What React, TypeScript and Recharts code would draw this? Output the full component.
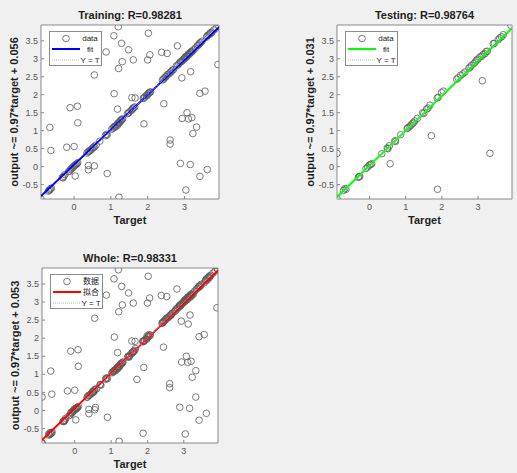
import React from "react";
import { ScatterChart, Scatter, XAxis, YAxis, Label } from "recharts";

// ── dados: [target, output] ─────────────────────────────────────────────
const trainPoints: [number, number][] = [
  // perto da diagonal
  [-0.9, -0.9], [-0.7, -0.68], [-0.68, -0.66], [-0.66, -0.64], [-0.64, -0.62], [-0.62, -0.6],
  [-0.32, -0.3], [-0.3, -0.31], [-0.28, -0.27], [-0.25, -0.22], [-0.15, -0.14], [-0.12, -0.12],
  [-0.1, -0.08], [-0.07, -0.06], [-0.05, -0.03], [-0.02, 0.0], [0.0, 0.02], [0.02, 0.03],
  [0.04, 0.05], [0.06, 0.07], [0.08, 0.08], [0.1, 0.11],
  [0.35, 0.38], [0.38, 0.41], [0.4, 0.42], [0.42, 0.44], [0.45, 0.46], [0.48, 0.49], [0.5, 0.52],
  [0.53, 0.53], [0.55, 0.56], [0.6, 0.6],
  [0.7, 0.71], [0.85, 0.86], [0.88, 0.9], [0.9, 0.88],
  [1.02, 1.04], [1.06, 1.07], [1.08, 1.1], [1.1, 1.12], [1.12, 1.1], [1.14, 1.14], [1.17, 1.18],
  [1.18, 1.15], [1.2, 1.22], [1.22, 1.2], [1.24, 1.23], [1.25, 1.26], [1.27, 1.3], [1.28, 1.28],
  [1.3, 1.31], [1.32, 1.33],
  [1.45, 1.47], [1.48, 1.49], [1.5, 1.52], [1.55, 1.56], [1.58, 1.59], [1.6, 1.62], [1.62, 1.64],
  [1.65, 1.66],
  [1.88, 1.9], [1.9, 1.91], [1.92, 1.94], [1.96, 1.98], [1.98, 1.97], [2.0, 2.01], [2.02, 2.04],
  [2.04, 2.05], [2.06, 2.07], [2.08, 2.08],
  [2.4, 2.41], [2.43, 2.43], [2.45, 2.46], [2.48, 2.49], [2.5, 2.51], [2.53, 2.55], [2.56, 2.57],
  [2.6, 2.6], [2.62, 2.63], [2.65, 2.65], [2.67, 2.68], [2.7, 2.7],
  [2.78, 2.8], [2.82, 2.83], [2.85, 2.86], [2.88, 2.9], [2.9, 2.92], [2.93, 2.93], [2.95, 2.96],
  [2.98, 2.99], [3.0, 3.01], [3.02, 3.05], [3.03, 3.02], [3.05, 3.07], [3.07, 3.06], [3.08, 3.09],
  [3.1, 3.12], [3.12, 3.14], [3.13, 3.12], [3.15, 3.16], [3.17, 3.17], [3.18, 3.2], [3.2, 3.19],
  [3.22, 3.22], [3.25, 3.25], [3.3, 3.3],
  [3.35, 3.36], [3.38, 3.38], [3.4, 3.41], [3.42, 3.44], [3.45, 3.46], [3.48, 3.49],
  [3.6, 3.6], [3.62, 3.64], [3.65, 3.66], [3.68, 3.68], [3.7, 3.72], [3.72, 3.71], [3.75, 3.74],
  [3.8, 3.8], [3.86, 3.85], [3.94, 3.9],
  // fora da diagonal
  [0.87, 3.19], [1.08, 3.64], [1.2, 3.89], [1.29, 3.43], [1.48, 3.25], [1.31, 2.92], [1.21, 2.73],
  [1.61, 2.97], [2.02, 3.71], [2.0, 2.97], [2.06, 3.11], [2.38, 3.18], [2.53, 3.15], [2.81, 3.36],
  [0.55, 2.55], [1.09, 2.03], [1.18, 1.6], [-0.11, 1.64], [0.09, 1.68], [0.1, 1.22], [-0.66, 1.09],
  [-0.63, 0.45], [-0.2, 0.54], [0.0, 0.56], [0.03, -0.26], [0.39, 0.03], [0.39, -0.09], [0.55, 0.02],
  [0.9, -0.19], [1.22, -0.85], [1.57, 1.92], [1.66, 1.91], [1.9, 1.19], [2.44, 1.75], [2.93, 2.47],
  [3.17, 2.64], [3.42, 2.04], [3.56, 2.1], [3.07, 1.5], [2.94, 1.34], [3.11, 1.33], [3.2, 1.36],
  [3.33, 1.1], [3.23, 0.92], [2.61, 0.74], [2.61, 0.63], [2.89, 0.09], [3.16, 0.06], [3.42, -0.27],
  [3.62, -0.08], [3.04, -0.65], [3.91, 2.84],
];

const testPoints: [number, number][] = [
  [-0.9, -0.9], [-0.68, -0.61], [-0.72, -0.66], [-0.65, -0.63], [-0.31, -0.3], [-0.29, -0.28],
  [-0.27, -0.27], [-0.1, -0.05], [-0.05, -0.01], [-0.01, 0.04], [0.03, 0.06], [0.06, 0.08],
  [0.34, 0.36], [0.49, 0.52], [0.51, 0.5], [0.55, 0.58], [0.7, 0.72], [0.72, 0.7],
  [0.86, 0.89], [1.04, 1.06], [1.06, 1.08], [1.1, 1.11], [1.14, 1.15], [1.18, 1.19], [1.21, 1.22],
  [1.25, 1.27], [1.32, 1.34], [1.47, 1.5], [1.5, 1.48], [1.58, 1.6], [1.62, 1.63], [1.67, 1.71],
  [1.87, 1.91], [1.9, 1.93], [1.99, 2.06], [2.04, 2.1], [2.41, 2.43], [2.45, 2.47], [2.52, 2.54],
  [2.58, 2.58], [2.64, 2.63], [2.75, 2.74], [2.78, 2.77], [2.82, 2.82], [2.89, 2.87], [2.92, 2.91],
  [2.96, 2.96], [3.0, 2.99], [3.05, 3.05], [3.1, 3.07], [3.14, 3.12], [3.19, 3.14], [3.22, 3.2],
  [3.26, 3.21], [3.42, 3.42], [3.45, 3.43], [3.56, 3.53], [3.6, 3.58], [3.65, 3.61], [3.7, 3.67],
  [3.91, 3.93],
  [-0.9, 0.37], [0.57, 0.08], [1.71, 0.86], [1.88, -0.63], [3.12, 2.39], [3.33, 0.37],
];

const wholePoints: [number, number][] = [...trainPoints, ...testPoints];

// retas de ajuste (extremos)
const trainFit: [number, number][] = [[-0.9, -0.817], [3.94, 3.878]];
const testFit: [number, number][] = [[-0.9, -0.842], [3.94, 3.853]];
const wholeFit: [number, number][] = [[-0.9, -0.82], [3.94, 3.875]];
const identity: [number, number][] = [[-0.9, -0.9], [3.94, 3.94]];

const axisDomain: [number, number] = [-0.9, 3.94];
const xTicks = [0, 1, 2, 3];
const yTicks = [-0.5, 0, 0.5, 1, 1.5, 2, 2.5, 3, 3.5];

const FONT = '"Liberation Sans", Arial, sans-serif';
const AXIS = "#8a8a8a";

const toXY = (arr: [number, number][]) => arr.map(([x, y]) => ({ x, y }));

interface PanelProps {
  left: number;
  top: number;
  width: number;
  height: number;
  box: { l: number; t: number; r: number; b: number };
  title: string;
  yLabel: string;
  points: [number, number][];
  fit: [number, number][];
  color: string;
  legend: string[];
}

function LegendBox({ x, y, color, labels }: { x: number; y: number; color: string; labels: string[] }) {
  return (
    <div
      style={{
        position: "absolute",
        left: x,
        top: y,
        width: 53,
        height: 35,
        background: "#fff",
        border: "1px solid #8c8c8c",
        boxSizing: "border-box",
      }}
    >
      <svg width={53} height={35} style={{ position: "absolute", left: -1, top: -1 }}>
        <circle cx={17} cy={7.5} r={3.3} fill="none" stroke="#5a5a5a" strokeWidth={0.8} />
        <line x1={3} x2={31} y1={18} y2={18} stroke={color} strokeWidth={2} />
        <line x1={3} x2={31} y1={29} y2={29} stroke="#b8b8b8" strokeWidth={1} strokeDasharray="1 1" />
        {labels.map((t, i) => (
          <text
            key={t}
            x={41}
            y={7.5 + i * 10.8}
            fontSize={8}
            fill="#222"
            textAnchor="middle"
            dominantBaseline="central"
            fontFamily={`${FONT}, "Noto Sans CJK SC"`}
          >
            {t}
          </text>
        ))}
      </svg>
    </div>
  );
}

const markerShape = (p: any) => (
  <circle cx={p.cx} cy={p.cy} r={3.3} fill="none" stroke="#5a5a5a" strokeWidth={0.8} />
);
const noShape = () => <g />;

function RegressionPanel({ left, top, width, height, box, title, yLabel, points, fit, color, legend }: PanelProps) {
  // eixos com 1px de espessura (recharts não desenha eixo de tamanho 0)
  const margin = { top: box.t - 1, left: box.l - 1, right: width - box.r - 1, bottom: height - box.b - 1 };
  return (
    <div style={{ position: "absolute", left, top, width, height }}>
      <div
        style={{
          position: "absolute",
          left: box.l,
          width: box.r - box.l,
          top: box.t - 16,
          textAlign: "center",
          fontSize: 11,
          fontWeight: "bold",
          color: "#1f1f1f",
          lineHeight: "12px",
        }}
      >
        {title}
      </div>
      <ScatterChart width={width} height={height} margin={margin}>
        <rect x={box.l} y={box.t} width={box.r - box.l} height={box.b - box.t} fill="#fff" />
        <XAxis
          xAxisId="b"
          type="number"
          dataKey="x"
          domain={axisDomain}
          ticks={xTicks}
          interval={0}
          allowDataOverflow
          height={1}
          stroke={AXIS}
          tickSize={-3}
          tickMargin={8}
          tick={{ fontSize: 9, fill: "#555", fontFamily: FONT }}
        >
          <Label value="Target" position="bottom" offset={16} style={{ fontSize: 11, fontWeight: "bold", fill: "#1f1f1f", fontFamily: FONT }} />
        </XAxis>
        <XAxis
          xAxisId="t"
          orientation="top"
          type="number"
          domain={axisDomain}
          ticks={xTicks}
          interval={0}
          allowDataOverflow
          height={1}
          stroke={AXIS}
          tickSize={-3}
          tick={false}
        />
        <YAxis
          yAxisId="l"
          type="number"
          dataKey="y"
          domain={axisDomain}
          ticks={yTicks}
          interval={0}
          allowDataOverflow
          width={1}
          stroke={AXIS}
          tickSize={-3}
          tickMargin={6}
          tick={{ fontSize: 9, fill: "#555", fontFamily: FONT }}
        >
          <Label
            value={yLabel}
            position="center"
            angle={-90}
            dx={-26}
            style={{ fontSize: 11, fontWeight: "bold", fill: "#1f1f1f", fontFamily: FONT }}
          />
        </YAxis>
        <YAxis
          yAxisId="r"
          orientation="right"
          type="number"
          domain={axisDomain}
          ticks={yTicks}
          interval={0}
          allowDataOverflow
          width={1}
          stroke={AXIS}
          tickSize={-3}
          tick={false}
        />
        <Scatter
          xAxisId="b"
          yAxisId="l"
          data={toXY(points)}
          shape={markerShape}
          isAnimationActive={false}
        />
        <Scatter
          xAxisId="b"
          yAxisId="l"
          data={toXY(fit)}
          line={{ stroke: color, strokeWidth: 2 }}
          shape={noShape}
          isAnimationActive={false}
        />
        <Scatter
          xAxisId="b"
          yAxisId="l"
          data={toXY(identity)}
          line={{ stroke: "#c8c8c8", strokeWidth: 1, strokeDasharray: "1 1" }}
          shape={noShape}
          isAnimationActive={false}
        />
      </ScatterChart>
      <LegendBox x={box.l + 8} y={box.t + 6} color={color} labels={legend} />
    </div>
  );
}

export default function App() {
  return (
    <div
      style={{
        position: "absolute",
        left: 0,
        top: 0,
        width: 517,
        height: 473,
        background: "#f0f0f0",
        fontFamily: FONT,
        overflow: "hidden",
      }}
    >
      <RegressionPanel
        left={0}
        top={0}
        width={245}
        height={235}
        box={{ l: 41, t: 25, r: 219, b: 199 }}
        title="Training: R=0.98281"
        yLabel="output ~= 0.97*target + 0.056"
        points={trainPoints}
        fit={trainFit}
        color="#0000ff"
        legend={["data", "fit", "Y = T"]}
      />
      <RegressionPanel
        left={260}
        top={0}
        width={257}
        height={235}
        box={{ l: 77, t: 25, r: 252, b: 199 }}
        title="Testing: R=0.98764"
        yLabel="output ~= 0.97*target + 0.031"
        points={testPoints}
        fit={testFit}
        color="#00ff00"
        legend={["data", "fit", "Y = T"]}
      />
      <RegressionPanel
        left={0}
        top={240}
        width={245}
        height={233}
        box={{ l: 42, t: 28, r: 218, b: 203 }}
        title="Whole: R=0.98331"
        yLabel="output ~= 0.97*target + 0.053"
        points={wholePoints}
        fit={wholeFit}
        color="#ff0000"
        legend={["数据", "拟合", "Y = T"]}
      />
    </div>
  );
}
